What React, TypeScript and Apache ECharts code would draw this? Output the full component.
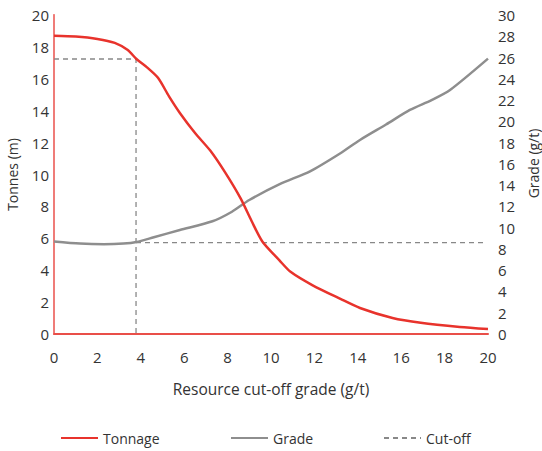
import React, { useEffect, useRef } from "react";
import * as echarts from "echarts";

const xTicks = [0, 2, 4, 6, 8, 10, 12, 14, 16, 18, 20];

const tonnageX = [0, 1, 2, 2.8, 3.4, 3.8, 4.3, 4.8, 5.3, 5.8, 6.5, 7.2, 7.9, 8.6, 9.1, 9.6, 10.4, 10.9, 11.9, 13.2, 14.1, 15.6, 16.9, 18.7, 20];
const tonnageY = [18.7, 18.65, 18.5, 18.25, 17.8, 17.24, 16.7, 16.05, 14.9, 13.86, 12.6, 11.5, 10.1, 8.5, 7.1, 5.8, 4.6, 3.9, 3.07, 2.2, 1.63, 1.0, 0.7, 0.44, 0.31];

const gradeX = [0, 1.2, 2.3, 3.2, 3.8, 4.6, 5.8, 7.3, 8.2, 9.0, 10.4, 11.8, 13.2, 14.1, 15.3, 16.4, 17.4, 18.25, 20];
const gradeY = [8.7, 8.5, 8.44, 8.5, 8.65, 9.1, 9.78, 10.6, 11.5, 12.6, 14.1, 15.3, 17.0, 18.25, 19.7, 21.07, 22.0, 22.95, 25.9];

const cutoffGrade = 3.78;
const cutoffTonnage = 17.24;
const cutoffGradeLevel = 8.6;
const cutoffLineEnd = 19.8;

const FONT = "'Open Sans', 'Noto Sans', sans-serif";

export default function App() {
  const ref = useRef<HTMLDivElement>(null);
  useEffect(() => {
    if (!ref.current) return;
    const chart = echarts.init(ref.current, undefined, { renderer: "svg" });
    const zip = (xs: number[], ys: number[]) => xs.map((x, i) => [x, ys[i]]);
    const frameColor = "#ef7c78";
    const axisLabel = { color: "#333", fontSize: 15, fontFamily: FONT };
    const legendBase = {
      top: 426,
      itemWidth: 37,
      itemHeight: 10,
      itemGap: 8,
      itemStyle: { opacity: 0 },
      textStyle: { color: "#333", fontSize: 14, fontFamily: FONT },
    };
    chart.setOption({
      animation: false,
      grid: { left: 54, right: 54, top: 15, bottom: 117, outerBoundsMode: "none", containLabel: false },
      legend: [
        { ...legendBase, data: ["Tonnage"], left: 55 },
        { ...legendBase, data: ["Grade"], left: 225 },
        { ...legendBase, data: ["Cut-off"], left: 378 },
      ],
      xAxis: [
        {
          type: "value",
          min: 0,
          max: 20,
          interval: 2,
          name: "Resource cut-off grade (g/t)",
          nameLocation: "middle",
          nameGap: 47,
          nameTextStyle: { color: "#333", fontSize: 15.5, fontFamily: FONT },
          axisLine: { show: true, lineStyle: { color: frameColor, width: 2 } },
          axisTick: { show: false },
          splitLine: { show: false },
          axisLabel: { ...axisLabel, margin: 15, formatter: (v: number) => (xTicks.includes(v) ? String(v) : "") },
        },
        {
          type: "value",
          position: "top",
          min: 0,
          max: 20,
          interval: 2,
          axisLine: { show: true, lineStyle: { color: "#e8403a", width: 1.5 } },
          axisTick: { show: false },
          axisLabel: { show: false },
          splitLine: { show: false },
        },
      ],
      yAxis: [
        {
          type: "value",
          min: 0,
          max: 20,
          interval: 2,
          name: "Tonnes (m)",
          nameLocation: "middle",
          nameRotate: 90,
          nameGap: 35,
          nameTextStyle: { color: "#333", fontSize: 14, fontFamily: FONT },
          axisLine: { show: true, lineStyle: { color: frameColor, width: 2 } },
          axisTick: { show: false },
          splitLine: { show: false },
          axisLabel: { ...axisLabel, margin: 5 },
        },
        {
          type: "value",
          position: "right",
          min: 0,
          max: 30,
          interval: 2,
          name: "Grade (g/t)",
          nameLocation: "middle",
          nameRotate: 90,
          nameGap: 35,
          nameTextStyle: { color: "#333", fontSize: 14, fontFamily: FONT, padding: [0, 0, 0, 22] },
          axisLine: { show: true, lineStyle: { color: frameColor, width: 1.5 } },
          axisTick: { show: false },
          splitLine: { show: false },
          axisLabel: { ...axisLabel, margin: 10 },
        },
      ],
      series: [
        {
          name: "Tonnage",
          type: "line",
          yAxisIndex: 0,
          data: zip(tonnageX, tonnageY),
          smooth: 0.25,
          symbol: "none",
          lineStyle: { color: "#e8332c", width: 2.5 },
          itemStyle: { color: "#e8332c" },
          z: 3,
        },
        {
          name: "Grade",
          type: "line",
          yAxisIndex: 1,
          data: zip(gradeX, gradeY),
          smooth: 0.25,
          symbol: "none",
          lineStyle: { color: "#8e8e8e", width: 2.5 },
          itemStyle: { color: "#8e8e8e" },
          z: 2,
        },
        {
          name: "Cut-off",
          type: "line",
          yAxisIndex: 0,
          data: [[0, cutoffTonnage], [cutoffGrade, cutoffTonnage], [cutoffGrade, 0]],
          symbol: "none",
          lineStyle: { color: "#888", width: 1.3, type: [5, 4] },
          itemStyle: { color: "#888" },
          z: 1,
        },
        {
          name: "Cut-off grade",
          type: "line",
          yAxisIndex: 1,
          data: [[cutoffGrade, cutoffGradeLevel], [cutoffLineEnd, cutoffGradeLevel]],
          symbol: "none",
          lineStyle: { color: "#888", width: 1.3, type: [5, 4] },
          z: 1,
        },
      ],
    });
    return () => chart.dispose();
  }, []);
  return <div ref={ref} style={{ position: "absolute", left: 0, top: 0, width: 542, height: 451 }} />;
}
